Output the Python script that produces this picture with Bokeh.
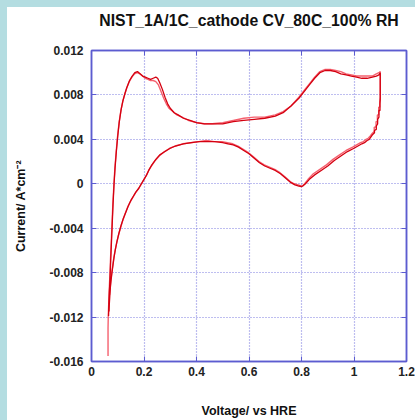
from bokeh.plotting import figure
from bokeh.models import (FixedTicker, LinearAxis, Range1d, Spacer, ColumnDataSource)
from bokeh.core.properties import value
from bokeh.layouts import column, row
from bokeh.embed import file_html
from bokeh.resources import INLINE

# ---------------- data ----------------
title_text = "NIST_1A/1C_cathode CV_80C_100% RH"
x_label = "Voltage/ vs HRE"
y_label = "Current/ A*cm\u207b\u00b2"

x_ticks = [0, 0.2, 0.4, 0.6, 0.8, 1.0, 1.2]
x_tick_labels = ["0", "0.2", "0.4", "0.6", "0.8", "1", "1.2"]
y_ticks = [-0.016, -0.012, -0.008, -0.004, 0, 0.004, 0.008, 0.012]
y_tick_labels = ["-0.016", "-0.012", "-0.008", "-0.004", "0", "0.004", "0.008", "0.012"]

# cycle 1 (dark red): forward scan then reverse scan
cycle1_v = [0.065, 0.066, 0.068, 0.069, 0.071, 0.073, 0.076, 0.079, 0.082, 0.086,
            0.090, 0.095, 0.100, 0.106, 0.113, 0.120, 0.127, 0.135, 0.145, 0.155,
            0.165, 0.175, 0.185, 0.195, 0.205, 0.215, 0.225, 0.235, 0.245, 0.252,
            0.260, 0.270, 0.280, 0.290, 0.300, 0.315, 0.330, 0.350, 0.375, 0.400,
            0.430, 0.460, 0.500, 0.540, 0.580, 0.620, 0.660, 0.700, 0.730, 0.760,
            0.790, 0.810, 0.830, 0.850, 0.870, 0.890, 0.910, 0.930, 0.950, 0.970,
            0.990, 1.010, 1.030, 1.050, 1.070, 1.085, 1.095, 1.100,
            1.100, 1.099, 1.099, 1.095, 1.095, 1.090, 1.090, 1.085, 1.085, 1.078,
            1.078, 1.070, 1.064, 1.058, 1.050, 1.040, 1.030, 1.015, 1.000, 0.975,
            0.950, 0.925, 0.900, 0.875, 0.850, 0.830, 0.815, 0.805, 0.800, 0.790,
            0.775, 0.760, 0.740, 0.720, 0.700, 0.680, 0.660, 0.640, 0.620, 0.600,
            0.580, 0.560, 0.540, 0.520, 0.500, 0.470, 0.440, 0.410, 0.380, 0.350,
            0.320, 0.300, 0.280, 0.260, 0.245, 0.230, 0.220, 0.210, 0.200, 0.190,
            0.180, 0.170, 0.160, 0.150, 0.140, 0.130, 0.120, 0.112, 0.104, 0.097,
            0.091, 0.086, 0.082, 0.078, 0.075, 0.072, 0.070, 0.068, 0.067]
cycle1_i = [-0.0119, -0.0108, -0.0097, -0.0093, -0.0083, -0.0070, -0.0053, -0.0036, -0.0019, 0.0000,
            0.0015, 0.0030, 0.0043, 0.0056, 0.0067, 0.0075, 0.0081, 0.0087, 0.0093, 0.0097,
            0.0100, 0.0101, 0.0099, 0.0097, 0.0096, 0.0095, 0.0094, 0.0095, 0.0096, 0.0095,
            0.0091, 0.0085, 0.0078, 0.0072, 0.0068, 0.0064, 0.0062, 0.0059, 0.0057, 0.0055,
            0.0054, 0.0054, 0.0054, 0.0056, 0.0057, 0.0058, 0.0059, 0.0061, 0.0064, 0.0070,
            0.0077, 0.0083, 0.0089, 0.0095, 0.0100, 0.0102, 0.0102, 0.0101, 0.0099, 0.0098,
            0.0097, 0.0096, 0.0095, 0.0095, 0.0096, 0.0097, 0.0098, 0.0100,
            0.0076, 0.0072, 0.0066, 0.0066, 0.0060, 0.0058, 0.0054, 0.0052, 0.0049, 0.0048,
            0.0046, 0.0044, 0.0042, 0.0040, 0.0039, 0.0037, 0.0036, 0.0034, 0.0032, 0.0029,
            0.0025, 0.0021, 0.0016, 0.0012, 0.0008, 0.0004, 0.0000, -0.0002, -0.00025, -0.0002,
            -0.0001, 0.0001, 0.0005, 0.0009, 0.0012, 0.0014, 0.0016, 0.0019, 0.0023, 0.0027,
            0.0030, 0.0033, 0.0035, 0.0036, 0.0037, 0.0038, 0.0038, 0.0038, 0.0037, 0.0036,
            0.0034, 0.0032, 0.0029, 0.0026, 0.0022, 0.0017, 0.0013, 0.0008, 0.0004, 0.0000,
            -0.0004, -0.0007, -0.0011, -0.0015, -0.0020, -0.0026, -0.0032, -0.0038, -0.0045, -0.0052,
            -0.0059, -0.0066, -0.0073, -0.0080, -0.0086, -0.0093, -0.0100, -0.0108, -0.0115]

# cycle 2 (light red): forward scan then reverse scan
cycle2_v = [0.063, 0.063, 0.064, 0.066, 0.068, 0.070, 0.072, 0.075, 0.078, 0.081,
            0.085, 0.089, 0.094, 0.099, 0.105, 0.112, 0.119, 0.126, 0.134, 0.144,
            0.154, 0.164, 0.174, 0.184, 0.194, 0.205, 0.215, 0.225, 0.235, 0.245,
            0.255, 0.265, 0.275, 0.285, 0.295, 0.310, 0.325, 0.345, 0.370, 0.400,
            0.430, 0.460, 0.500, 0.540, 0.580, 0.620, 0.660, 0.700, 0.730, 0.760,
            0.790, 0.810, 0.830, 0.850, 0.870, 0.890, 0.910, 0.930, 0.950, 0.970,
            0.990, 1.010, 1.030, 1.050, 1.070, 1.085, 1.095, 1.100,
            1.100, 1.098, 1.098, 1.094, 1.094, 1.089, 1.089, 1.084, 1.084, 1.077,
            1.077, 1.068, 1.062, 1.054, 1.046, 1.036, 1.025, 1.010, 0.995, 0.970,
            0.945, 0.920, 0.895, 0.870, 0.845, 0.825, 0.812, 0.803, 0.798, 0.788,
            0.772, 0.757, 0.738, 0.718, 0.698, 0.678, 0.658, 0.638, 0.618, 0.598,
            0.578, 0.558, 0.538, 0.518, 0.498, 0.468, 0.438, 0.408, 0.378, 0.348,
            0.318, 0.298, 0.278, 0.258, 0.243, 0.228, 0.218, 0.208, 0.198, 0.188,
            0.178, 0.168, 0.158, 0.148, 0.138, 0.128, 0.118, 0.110, 0.102, 0.095,
            0.089, 0.084, 0.080, 0.076, 0.073, 0.071, 0.069]
cycle2_i = [-0.0155, -0.0130, -0.0118, -0.0105, -0.0093, -0.0082, -0.0070, -0.0054, -0.0037, -0.0020,
            -0.0002, 0.0014, 0.0029, 0.0042, 0.0055, 0.0066, 0.0074, 0.0080, 0.0086, 0.0092,
            0.0096, 0.0099, 0.0100, 0.0099, 0.0097, 0.0095, 0.0094, 0.0093, 0.0093, 0.0092,
            0.0089, 0.0083, 0.0077, 0.0072, 0.0068, 0.0065, 0.0062, 0.0060, 0.0057, 0.0055,
            0.0054, 0.0054, 0.0055, 0.0057, 0.0059, 0.0060, 0.0060, 0.0062, 0.0065, 0.0070,
            0.0078, 0.0084, 0.0090, 0.0096, 0.0101, 0.0103, 0.0103, 0.0102, 0.0101, 0.0099,
            0.0098, 0.0097, 0.0097, 0.0097, 0.0097, 0.0099, 0.0100, 0.0101,
            0.0078, 0.0074, 0.0069, 0.0069, 0.0062, 0.0062, 0.0056, 0.0056, 0.0051, 0.0051,
            0.0047, 0.0045, 0.0043, 0.0041, 0.0040, 0.0038, 0.0037, 0.0035, 0.0033, 0.0030,
            0.0026, 0.0022, 0.0017, 0.0013, 0.0009, 0.0004, 0.0000, -0.0002, -0.0002, -0.0001,
            0.0000, 0.0002, 0.0006, 0.0010, 0.0013, 0.0015, 0.0017, 0.0020, 0.0024, 0.0028,
            0.0031, 0.0034, 0.0036, 0.0037, 0.0038, 0.0038, 0.0039, 0.0038, 0.0037, 0.0036,
            0.0034, 0.0032, 0.0029, 0.0025, 0.0021, 0.0016, 0.0012, 0.0007, 0.0003, -0.0001,
            -0.0005, -0.0008, -0.0012, -0.0016, -0.0021, -0.0027, -0.0034, -0.0040, -0.0047, -0.0054,
            -0.0061, -0.0068, -0.0075, -0.0082, -0.0088, -0.0094, -0.0100]

# ---------------- styling ----------------
TEAL = "#b4dde1"
FRAME = "#5c5cd0"
GRID = "#7d7de0"
FONT = "Liberation Sans"

# --- title strip: a small figure whose frame spans the same x range as the plot ---
pt = figure(width=408, height=30, output_backend="svg", toolbar_location=None,
            x_range=Range1d(0, 1.2), y_range=Range1d(0, 30),
            x_axis_location=None, y_axis_location=None,
            min_border_left=84, min_border_right=9, min_border_top=0, min_border_bottom=0,
            background_fill_color="white", border_fill_color="white")
pt.outline_line_color = None
pt.grid.visible = False
pt.text(x=[0.6], y=[17], text=[title_text], text_align="center", text_baseline="middle",
        text_font=value(FONT), text_font_size="15.8px", text_font_style="bold",
        text_color="#111111")

# --- main plot ---
p = figure(width=408, height=383, output_backend="svg", toolbar_location=None,
           x_range=Range1d(0, 1.2), y_range=Range1d(-0.016, 0.012),
           min_border_left=84, min_border_right=9, min_border_top=13, min_border_bottom=56,
           background_fill_color="white", border_fill_color="white")

p.outline_line_color = FRAME
p.outline_line_width = 1.5
p.outline_line_alpha = 1.0

p.xaxis.ticker = FixedTicker(ticks=x_ticks)
p.yaxis.ticker = FixedTicker(ticks=y_ticks)
p.xaxis.major_label_overrides = dict(zip(x_ticks, x_tick_labels))
p.yaxis.major_label_overrides = dict(zip(y_ticks, y_tick_labels))

for ax in (p.xaxis[0], p.yaxis[0]):
    ax.axis_line_color = FRAME
    ax.axis_line_width = 1.5
    ax.major_tick_in = 5
    ax.major_tick_out = 0
    ax.major_tick_line_color = FRAME
    ax.minor_tick_line_color = None
    ax.major_label_text_font = FONT
    ax.major_label_text_font_size = "12px"
    ax.major_label_text_font_style = "bold"
    ax.major_label_text_color = "#222222"
    ax.axis_label_text_font = FONT
    ax.axis_label_text_font_size = "12.5px"
    ax.axis_label_text_font_style = "bold"
    ax.axis_label_text_color = "#111111"

p.xaxis.axis_label = x_label
p.yaxis.axis_label = y_label
p.xaxis.major_label_standoff = 5
p.yaxis.major_label_standoff = 8
p.xaxis.axis_label_standoff = 25
p.yaxis.axis_label_standoff = 18

# mirrored axes with inward ticks (no labels)
top_ax = LinearAxis(ticker=FixedTicker(ticks=x_ticks), major_label_text_color=None,
                    major_label_text_font_size="1px",
                    major_tick_in=5, major_tick_out=0, major_tick_line_color=FRAME,
                    minor_tick_line_color=None, axis_line_color=FRAME, axis_line_width=1.5,
                    major_label_standoff=0)
right_ax = LinearAxis(ticker=FixedTicker(ticks=y_ticks), major_label_text_color=None,
                      major_label_text_font_size="1px",
                      major_tick_in=5, major_tick_out=0, major_tick_line_color=FRAME,
                      minor_tick_line_color=None, axis_line_color=FRAME, axis_line_width=1.5,
                      major_label_standoff=0)
p.add_layout(top_ax, "above")
p.add_layout(right_ax, "right")

p.xgrid.ticker = FixedTicker(ticks=x_ticks)
p.ygrid.ticker = FixedTicker(ticks=y_ticks)
for g in (p.xgrid[0], p.ygrid[0]):
    g.grid_line_color = GRID
    g.grid_line_dash = "1 2"
    g.grid_line_width = 1.2

src1 = ColumnDataSource(dict(v=cycle1_v, i=cycle1_i))
src2 = ColumnDataSource(dict(v=cycle2_v, i=cycle2_i))
p.line("v", "i", source=src2, line_color="#f5606e", line_width=1.4)
p.line("v", "i", source=src1, line_color="#d40010", line_width=1.3)

top_strip = Spacer(width=415, height=7, styles={"background-color": TEAL})
left_strip = Spacer(width=7, height=413, styles={"background-color": TEAL})
page = column(top_strip, row(left_strip, column(pt, p, spacing=0), spacing=0), spacing=0)

open("out.html", "w").write(file_html(page, INLINE))
